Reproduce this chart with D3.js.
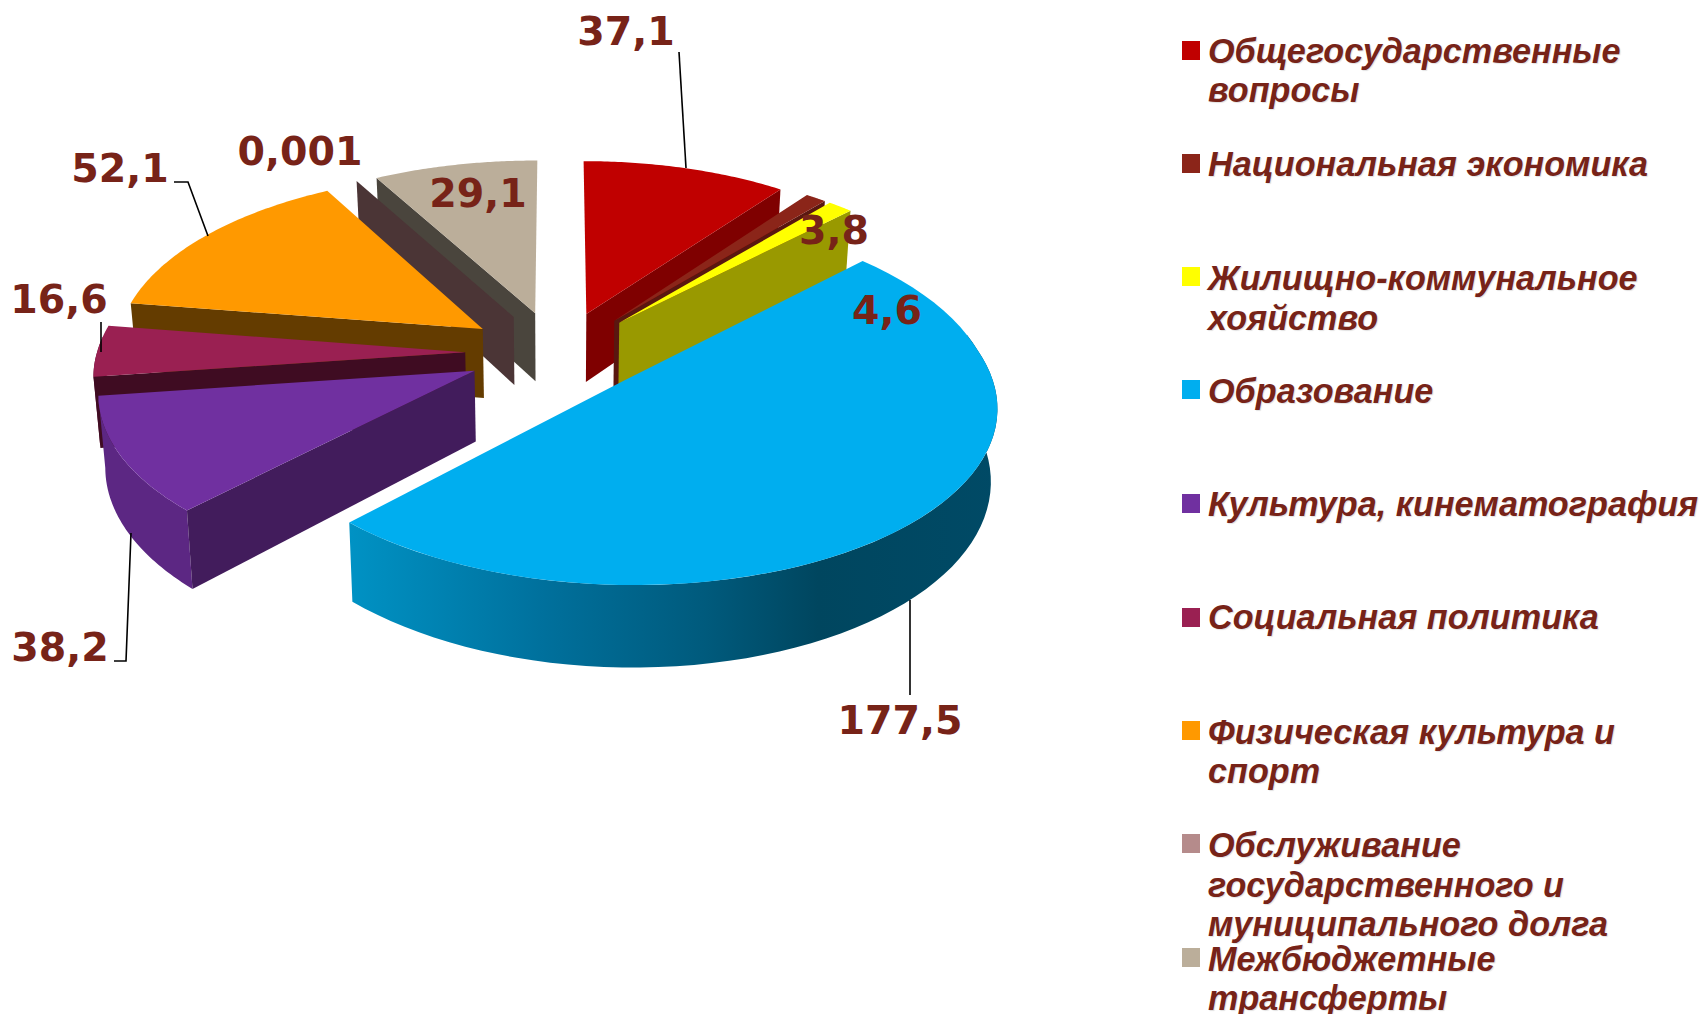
<!DOCTYPE html>
<html>
<head>
<meta charset="utf-8">
<script src="https://cdn.jsdelivr.net/npm/d3@7"></script>
<style>
  html, body { margin: 0; padding: 0; background: #fff; }
  svg { display: block; }
</style>
</head>
<body>
<div id="chart"></div>
<script>
const categories = [
  'Общегосударственные вопросы',
  'Национальная экономика',
  'Жилищно-коммунальное хояйство',
  'Образование',
  'Культура, кинематография',
  'Социальная политика',
  'Физическая культура и спорт',
  'Обслуживание государственного и муниципального долга',
  'Межбюджетные трансферты'
];
const values = [37.1, 3.8, 4.6, 177.5, 38.2, 16.6, 52.1, 0.001, 29.1];
const valueLabels = ['37,1', '3,8', '4,6', '177,5', '38,2', '16,6', '52,1', '0,001', '29,1'];
const legendLines = [
  ['Общегосударственные', 'вопросы'],
  ['Национальная экономика'],
  ['Жилищно-коммунальное', 'хояйство'],
  ['Образование'],
  ['Культура, кинематография'],
  ['Социальная политика'],
  ['Физическая культура и', 'спорт'],
  ['Обслуживание', 'государственного и', 'муниципального долга'],
  ['Межбюджетные', 'трансферты']
];

const topColors = ['#c00000', '#8b2519', '#ffff00', '#00aeef', '#7030a0', '#9a2052', '#ff9900', '#b58b8b', '#bbae9a'];
const wallColors = ['#7f0000', '#5a1710', '#999900', '#00465f', '#421c5c', '#3f0c22', '#643c00', '#4b3536', '#4a453d'];
const rimColors = ['#7f0000', '#5a1710', '#999900', 'url(#blueRim)', '#5c2783', '#5a1030', '#643c00', '#4b3536', '#4a453d'];

// pixel layout, in the order of the categories
const labelPos = [[626, 45], [834, 244], [887, 324], [900, 734], [60, 661], [59, 313], [120, 182], [300, 165], [478, 207]];
const leaders = [
  [[679, 52], [686, 168]],
  [[174, 182], [188, 182], [208, 236]],
  [[101, 322], [101, 352]],
  [[131, 533], [126, 661], [114, 661]],
  [[910, 600], [910, 695]]
];
const legendMarkerY = [41, 154, 267, 380, 494, 608, 721, 834, 948];
const legendBaselines = [[62.5, 101.5], [175.5], [289.5, 329.5], [402.5], [515.5], [628.5], [743.5, 782.5], [856.5, 896.5, 935.5], [970.5, 1009.5]];

const width = 1704, height = 1014;
const cx = 558, cy = 352.5;
const radius = 361, flatNear = 170, flatFar = 182, depth = 70;
const explodeX = 0.252, explodeY = 0.23, persp = 0.13, bottomShrink = 0.015;

const svg = d3.select('#chart').append('svg')
  .attr('width', width)
  .attr('height', height)
  .attr('viewBox', `0 0 ${width} ${height}`);

const defs = svg.append('defs');
const grad = defs.append('linearGradient')
  .attr('id', 'blueRim')
  .attr('gradientUnits', 'userSpaceOnUse')
  .attr('x1', 350).attr('x2', 1000).attr('y1', 0).attr('y2', 0);
[[0, '#0092c4'], [0.3, '#00709c'], [0.55, '#005a7c'], [0.72, '#00465f'], [1, '#004a66']].forEach(s => {
  grad.append('stop').attr('offset', s[0]).attr('stop-color', s[1]);
});

// pie angles are measured clockwise from the top, as d3.pie gives them
const arcs = d3.pie().sort(null).value(d => d)(values);

// u goes right, v goes towards the viewer, h is 0 on the top face and 1 on the bottom one
function project(u, v, h) {
  const f = 1 / (1 - persp * v);
  // the far side of the picture is a little wider than a plain perspective gives
  const skew = u < 0 ? 1 + 0.02 * (1 - Math.min(v, 1)) : 1 + 0.018 * Math.max(0, -v);
  const flat = v < 0 ? flatFar : flatNear;
  return [
    cx + radius * u * f * skew * (1 - bottomShrink * h),
    cy + flat * v * f + depth * f * h
  ];
}

function toPath(points) {
  return d3.line()(points) + 'Z';
}

function sliceGeom(a) {
  const mid = (a.startAngle + a.endAngle) / 2;
  const ox = explodeX * Math.sin(mid), oy = -explodeY * Math.cos(mid);
  const rim = (ang, h) => project(ox + Math.sin(ang), oy - Math.cos(ang), h);
  const apex = h => project(ox, oy, h);
  const sweep = (a0, a1, h) => d3.range(0, 61).map(i => rim(a0 + (a1 - a0) * i / 60, h));
  return { rim, apex, sweep };
}

const g = svg.append('g');

// back to front
const drawOrder = [8, 7, 6, 5, 4, 0, 1, 2, 3];
const rimFrom = 75 * Math.PI / 180, rimTo = 275 * Math.PI / 180;

drawOrder.forEach(i => {
  const a = arcs[i];
  const geom = sliceGeom(a);

  const r0 = Math.max(a.startAngle, rimFrom), r1 = Math.min(a.endAngle, rimTo);
  if (r1 > r0) {
    g.append('path')
      .attr('d', toPath(geom.sweep(r0, r1, 0).concat(geom.sweep(r1, r0, 1))))
      .attr('fill', rimColors[i]);
  }

  if (Math.sin(a.startAngle) < -0.01) {
    g.append('path')
      .attr('d', toPath([geom.apex(0), geom.rim(a.startAngle, 0), geom.rim(a.startAngle, 1), geom.apex(1)]))
      .attr('fill', wallColors[i]);
  }
  if (Math.sin(a.endAngle) > 0.01) {
    g.append('path')
      .attr('d', toPath([geom.apex(0), geom.rim(a.endAngle, 0), geom.rim(a.endAngle, 1), geom.apex(1)]))
      .attr('fill', wallColors[i]);
  }

  g.append('path')
    .attr('d', toPath([geom.apex(0)].concat(geom.sweep(a.startAngle, a.endAngle, 0))))
    .attr('fill', topColors[i]);
});

svg.append('g').selectAll('path')
  .data(leaders)
  .enter()
  .append('path')
  .attr('d', d => d3.line()(d))
  .attr('fill', 'none')
  .attr('stroke', '#000')
  .attr('stroke-width', 1.6);

svg.append('g').selectAll('text')
  .data(valueLabels)
  .enter()
  .append('text')
  .attr('x', (d, i) => labelPos[i][0])
  .attr('y', (d, i) => labelPos[i][1])
  .attr('text-anchor', 'middle')
  .attr('font-family', '"DejaVu Sans", sans-serif')
  .attr('font-weight', 'bold')
  .attr('font-size', 39.5)
  .attr('fill', '#772318')
  .text(d => d);

const legend = svg.append('g').selectAll('g')
  .data(categories)
  .enter()
  .append('g');

legend.append('rect')
  .attr('x', 1182)
  .attr('y', (d, i) => legendMarkerY[i])
  .attr('width', 18)
  .attr('height', 19)
  .attr('fill', (d, i) => topColors[i]);

legend.each(function(d, i) {
  d3.select(this).selectAll('text')
    .data(legendLines[i])
    .enter()
    .append('text')
    .attr('x', 1208)
    .attr('y', (t, j) => legendBaselines[i][j])
    .attr('font-family', '"Liberation Sans", Arial, sans-serif')
    .attr('font-weight', 'bold')
    .attr('font-style', 'italic')
    .attr('font-size', 34.2)
    .attr('fill', '#772318')
    .style('text-shadow', '1px 1px 1px rgba(0,0,0,0.12)')
    .text(t => t);
});
</script>
</body>
</html>
